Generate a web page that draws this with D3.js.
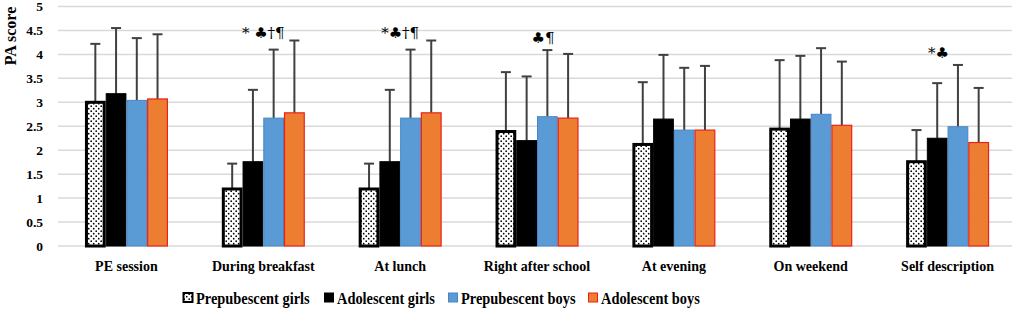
<!DOCTYPE html>
<html>
<head>
<meta charset="utf-8">
<script src="https://cdn.jsdelivr.net/npm/d3@7"></script>
<style>
  body { margin: 0; background: #fff; }
  svg { display: block; }
  text { font-family: "Liberation Serif", "Times New Roman", serif; font-weight: bold; }
  .note { font-family: "DejaVu Serif", serif; font-weight: normal; }
</style>
</head>
<body>
<div id="chart"></div>
<script>
const categories = ["PE session", "During breakfast", "At lunch", "Right after school", "At evening", "On weekend", "Self description"];
const groups = ["Prepubescent girls", "Adolescent girls", "Prepubescent boys", "Adolescent boys"];

// mean PA score per group, in category order
const prepGirls = [3.0, 1.19, 1.19, 2.39, 2.12, 2.44, 1.76];
const adolGirls = [3.18, 1.76, 1.76, 2.2, 2.65, 2.65, 2.25];
const prepBoys = [3.04, 2.67, 2.67, 2.7, 2.42, 2.75, 2.49];
const adolBoys = [3.07, 2.78, 2.78, 2.67, 2.42, 2.52, 2.16];

// top of the error bar (mean + SD)
const prepGirlsErr = [4.22, 1.72, 1.72, 3.63, 3.42, 3.88, 2.42];
const adolGirlsErr = [4.55, 3.26, 3.26, 3.54, 3.99, 3.97, 3.4];
const prepBoysErr = [4.34, 4.1, 4.1, 4.09, 3.72, 4.13, 3.78];
const adolBoysErr = [4.42, 4.29, 4.29, 4.01, 3.76, 3.85, 3.3];

const notes = ["", "* \u2663\u2020\u00b6", "*\u2663\u2020\u00b6", "\u2663\u00b6", "", "", "*\u2663"];
const yTicks = [0, 0.5, 1, 1.5, 2, 2.5, 3, 3.5, 4, 4.5, 5];

const series = [prepGirls, adolGirls, prepBoys, adolBoys];
const seriesErr = [prepGirlsErr, adolGirlsErr, prepBoysErr, adolBoysErr];

const width = 1021, height = 313;
const svg = d3.select("#chart").append("svg")
    .attr("width", width)
    .attr("height", height);

// dotted fill for prepubescent girls
const pat = svg.append("defs").append("pattern")
    .attr("id", "dots")
    .attr("patternUnits", "userSpaceOnUse")
    .attr("width", 5).attr("height", 5);
pat.append("rect").attr("width", 5).attr("height", 5).attr("fill", "#fff");
pat.append("circle").attr("cx", 1.2).attr("cy", 1.2).attr("r", 0.85).attr("fill", "#000");
pat.append("circle").attr("cx", 3.7).attr("cy", 3.7).attr("r", 0.85).attr("fill", "#000");

const fills = ["url(#dots)", "#000", "#5b9bd5", "#ed7d31"];
const strokes = ["#000", "#000", "#4a86c5", "#e8221a"];
const strokeW = [3, 1, 1, 1.2];

const y = d3.scaleLinear().domain([0, 5]).range([246, 6.5]);
const x0 = d3.scaleBand().domain(categories).range([58, 1016]).paddingInner(0.394).paddingOuter(0.197);
const x1 = d3.scaleBand().domain(d3.range(4)).range([0, x0.bandwidth()]);

// gridlines
svg.append("g").selectAll("line")
    .data(yTicks)
    .join("line")
    .attr("x1", 58).attr("x2", 1012)
    .attr("y1", d => y(d)).attr("y2", d => y(d))
    .attr("stroke", "#d9d9d9")
    .attr("stroke-width", 1.5);

// y tick labels
svg.append("g").selectAll("text")
    .data(yTicks)
    .join("text")
    .attr("x", 43)
    .attr("y", d => y(d))
    .attr("dy", "0.35em")
    .attr("text-anchor", "end")
    .attr("font-size", 13.5)
    .text(d => d);

svg.append("text")
    .attr("transform", "translate(16,36) rotate(-90)")
    .attr("text-anchor", "middle")
    .attr("font-size", 16)
    .text("PA score");

const bars = [];
categories.forEach((c, ci) => {
    series.forEach((s, si) => bars.push({ c, ci, si, v: s[ci], e: seriesErr[si][ci] }));
});

// error bars drawn first so the bars cover the lower part
const err = svg.append("g").selectAll("g")
    .data(bars)
    .join("g")
    .attr("transform", d => `translate(${x0(d.c) + x1(d.si) + x1.bandwidth() / 2},0)`);
err.append("line")
    .attr("y1", d => y(d.v)).attr("y2", d => y(d.e))
    .attr("stroke", "#404040").attr("stroke-width", 2);
err.append("line")
    .attr("x1", -5).attr("x2", 5)
    .attr("y1", d => y(d.e)).attr("y2", d => y(d.e))
    .attr("stroke", "#404040").attr("stroke-width", 2);

svg.append("g").selectAll("rect")
    .data(bars)
    .join("rect")
    .attr("x", d => x0(d.c) + x1(d.si) + (d.si === 0 ? 1.5 : 0.5))
    .attr("y", d => y(d.v))
    .attr("width", d => x1.bandwidth() - (d.si === 0 ? 3 : 1))
    .attr("height", d => y(0) - y(d.v))
    .attr("fill", d => fills[d.si])
    .attr("stroke", d => strokes[d.si])
    .attr("stroke-width", d => strokeW[d.si]);

// category labels
svg.append("g").selectAll("text")
    .data(categories)
    .join("text")
    .attr("x", d => x0(d) + x0.bandwidth() / 2)
    .attr("y", 271)
    .attr("text-anchor", "middle")
    .attr("font-size", 14)
    .text(d => d);

// significance marks
const noteShift = [0, 0, 0, 6, 0, 0, -9];
svg.append("g").selectAll("text")
    .data(categories)
    .join("text")
    .attr("class", "note")
    .attr("x", (d, i) => x0(d) + x0.bandwidth() / 2 + noteShift[i])
    .attr("y", (d, i) => y(d3.max(seriesErr, s => s[i])) - (i === 1 || i === 2 ? 3 : 7))
    .attr("text-anchor", "middle")
    .attr("font-size", 15)
    .text((d, i) => notes[i]);

// legend
const legendX = [183, 324, 448, 588];
const leg = svg.append("g").selectAll("g")
    .data(groups)
    .join("g")
    .attr("transform", (d, i) => `translate(${legendX[i]},298)`);
leg.append("rect")
    .attr("x", 0.5).attr("y", -5)
    .attr("width", 9).attr("height", 9)
    .attr("fill", (d, i) => fills[i])
    .attr("stroke", (d, i) => strokes[i])
    .attr("stroke-width", (d, i) => i === 0 ? 2 : 1);
leg.append("text")
    .attr("transform", "translate(13,0) scale(0.93,1.12)")
    .attr("dy", "0.35em")
    .attr("font-size", 15.5)
    .text(d => d);
</script>
</body>
</html>
